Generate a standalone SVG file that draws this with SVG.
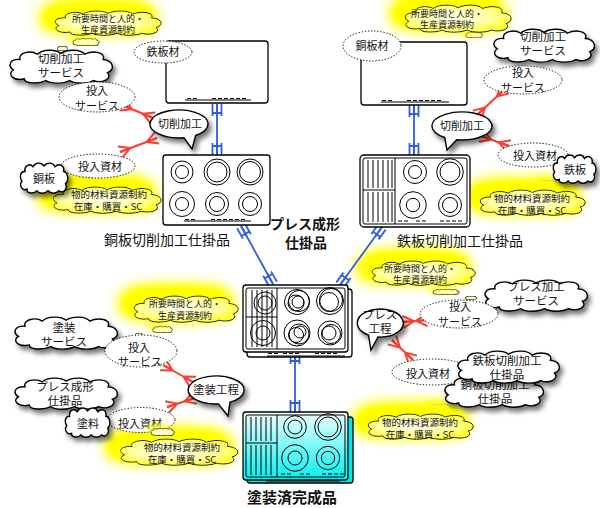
<svg xmlns="http://www.w3.org/2000/svg" width="600" height="508" viewBox="0 0 600 508">
<style>
text{font-family:"Noto Sans CJK JP","Noto Sans CJK SC",sans-serif;fill:#111;text-anchor:middle}
.s12{font-size:11.5px}
.s11{font-size:11px}
.s10{font-size:9.5px}
.s9{font-size:9px}
.lbl{font-size:14px}
.b{font-weight:bold}
.wc{fill:#fff;stroke:#000;stroke-width:1.4}
.yc{fill:url(#yfill);stroke:#000;stroke-width:1}
.yb{fill:#ffffc8;stroke:#000;stroke-width:.8}
.dot{fill:#fff;stroke:#000;stroke-width:1;stroke-dasharray:0.5 2.6;stroke-linecap:round}
.bub{fill:#fff;stroke:#000;stroke-width:1.4}
.pl{fill:#fff;stroke:#000;stroke-width:1.3}
.ln{fill:none;stroke:#000;stroke-width:1}
.blue{fill:none;stroke:#2f5fe0;stroke-width:1.8}
.red{fill:none;stroke:#ff3b2f;stroke-width:2}
</style>
<defs>
  <symbol id="cloud" viewBox="0 0 100 40" preserveAspectRatio="none">
    <path vector-effect="non-scaling-stroke" d="M12,12 C10,4 22,1 28,6 C33,0 45,0 50,5 C56,0 68,0 72,6 C80,1 92,4 89,12 C99,13 100,24 93,27 C98,34 88,40 80,36 C75,40 63,40 58,36 C52,40 40,40 36,36 C30,40 16,40 16,34 C5,37 0,28 6,24 C0,19 3,11 12,12 Z"/>
  </symbol>
  <!-- fork end: prongs open toward the part, bar across the link -->
  <path id="comb" d="M-4.5,0V12M0,0V12M4.5,0V12M-4.5,9H4.5"/>
  <!-- crow's foot end -->
  <path id="foot" d="M-6,0L0,11M0,0V11M6,0L0,11"/>
  <radialGradient id="yfill" cx="0.45" cy="0.45" r="0.6">
    <stop offset="0" stop-color="#ffffec"/>
    <stop offset="0.6" stop-color="#ffffa0"/>
    <stop offset="1" stop-color="#ffff28"/>
  </radialGradient>
  <linearGradient id="cyan" x1="0" y1="0" x2="0" y2="1">
    <stop offset="0" stop-color="#f4ffff"/>
    <stop offset="1" stop-color="#00f0f0"/>
  </linearGradient>
  <filter id="sh" x="-20%" y="-30%" width="150%" height="180%">
    <feDropShadow dx="3" dy="4" stdDeviation="2.5" flood-color="#000" flood-opacity="0.55"/>
  </filter>
  <filter id="glow" x="-60%" y="-150%" width="220%" height="400%">
    <feMorphology in="SourceAlpha" operator="dilate" radius="4" result="d"/>
    <feGaussianBlur in="d" stdDeviation="7"/>
    <feOffset dx="-10" dy="-7" result="b"/>
    <feComponentTransfer in="b" result="b2"><feFuncA type="linear" slope="1.4"/></feComponentTransfer>
    <feFlood flood-color="#ffff00"/>
    <feComposite in2="b2" operator="in"/>
    <feMerge><feMergeNode/><feMergeNode in="SourceGraphic"/></feMerge>
  </filter>
  <filter id="glow2" x="-100%" y="-200%" width="300%" height="500%">
    <feGaussianBlur in="SourceAlpha" stdDeviation="3"/>
    <feOffset dx="-4" dy="-3" result="b"/>
    <feFlood flood-color="#ffff00"/>
    <feComposite in2="b" operator="in"/>
    <feMerge><feMergeNode/><feMergeNode in="SourceGraphic"/></feMerge>
  </filter>
</defs>

<!-- resource constraint clouds (yellow, glowing) -->
<g id="res-time-1">
  <use href="#cloud" class="yb" x="72" y="38" width="28" height="8" filter="url(#glow2)"/>
  <use href="#cloud" class="yb" x="57" y="46" width="11" height="5"/>
  <use href="#cloud" class="yc" x="52" y="10" width="112" height="26" filter="url(#glow)"/>
  <text class="s9" x="108" y="22">所要時間と人的・</text>
  <text class="s9" x="108" y="33">生産資源制約</text>
</g>
<g id="res-mat-1">
  <use href="#cloud" class="yb" x="72" y="177" width="28" height="8" filter="url(#glow2)"/>
  <use href="#cloud" class="yc" x="50" y="186" width="114" height="28" filter="url(#glow)"/>
  <text class="s10" x="109" y="198">物的材料資源制約</text>
  <text class="s10" x="108" y="210">在庫・購買・SC</text>
</g>
<g id="res-time-2">
  <use href="#cloud" class="yb" x="465" y="32" width="18" height="6" filter="url(#glow2)"/>
  <use href="#cloud" class="yb" x="500" y="40" width="9" height="4"/>
  <use href="#cloud" class="yc" x="402" y="4" width="112" height="29" filter="url(#glow)"/>
  <text class="s9" x="447" y="17">所要時間と人的・</text>
  <text class="s9" x="447" y="28">生産資源制約</text>
</g>
<g id="res-mat-2">
  <use href="#cloud" class="yb" x="540" y="180" width="18" height="7" filter="url(#glow2)"/>
  <use href="#cloud" class="yc" x="477" y="189" width="111" height="27" filter="url(#glow)"/>
  <text class="s10" x="532" y="202">物的材料資源制約</text>
  <text class="s10" x="532" y="214">在庫・購買・SC</text>
</g>
<g id="res-time-3">
  <use href="#cloud" class="yb" x="152" y="326" width="21" height="7" filter="url(#glow2)"/>
  <use href="#cloud" class="yb" x="135" y="333" width="8" height="4"/>
  <use href="#cloud" class="yc" x="131" y="295" width="110" height="28" filter="url(#glow)"/>
  <text class="s9" x="185" y="307">所要時間と人的・</text>
  <text class="s9" x="185" y="319">生産資源制約</text>
</g>
<g id="res-mat-3">
  <use href="#cloud" class="yc" x="117" y="438" width="124" height="28" filter="url(#glow)"/>
  <text class="s10" x="182" y="451">物的材料資源制約</text>
  <text class="s10" x="182" y="463">在庫・購買・SC</text>
</g>
<g id="res-time-4">
  <use href="#cloud" class="yb" x="432" y="289" width="28" height="6" filter="url(#glow2)"/>
  <use href="#cloud" class="yb" x="465" y="296" width="12" height="4"/>
  <use href="#cloud" class="yc" x="369" y="260" width="109" height="26" filter="url(#glow)"/>
  <text class="s9" x="420" y="272">所要時間と人的・</text>
  <text class="s9" x="420" y="283">生産資源制約</text>
</g>
<g id="res-mat-4">
  <use href="#cloud" class="yb" x="430" y="404" width="22" height="6" filter="url(#glow2)"/>
  <use href="#cloud" class="yc" x="365" y="413" width="111" height="27" filter="url(#glow)"/>
  <text class="s10" x="420" y="426">物的材料資源制約</text>
  <text class="s10" x="420" y="438">在庫・購買・SC</text>
</g>

<!-- connectors: blue links between parts, red links to processes -->
<g id="connectors">
  <g class="blue">
    <line x1="217" y1="104" x2="217" y2="155"/>
    <use href="#comb" transform="translate(217,104)"/>
    <use href="#comb" transform="translate(217,155) rotate(180)"/>
    <line x1="414" y1="105" x2="414" y2="155"/>
    <use href="#comb" transform="translate(414,105)"/>
    <use href="#comb" transform="translate(414,155) rotate(180)"/>
    <line x1="241" y1="226" x2="273" y2="284"/>
    <use href="#comb" transform="translate(241,226) rotate(-29.3)"/>
    <use href="#comb" transform="translate(273,284) rotate(150.7)"/>
    <line x1="382" y1="227" x2="340" y2="285"/>
    <use href="#comb" transform="translate(382,227) rotate(35.9)"/>
    <use href="#comb" transform="translate(340,285) rotate(-144.1)"/>
    <line x1="295" y1="352" x2="295" y2="412"/>
    <use href="#comb" transform="translate(295,352)"/>
    <use href="#comb" transform="translate(295,412) rotate(180)"/>
  </g>
  <g class="red">
    <line x1="122" y1="105" x2="153" y2="118"/>
    <use href="#foot" transform="translate(122,105) rotate(-67.2)"/>
    <use href="#foot" transform="translate(153,118) rotate(112.8)"/>
    <line x1="120" y1="152" x2="157" y2="138"/>
    <use href="#foot" transform="translate(120,152) rotate(-110.7)"/>
    <use href="#foot" transform="translate(157,138) rotate(69.3)"/>
    <line x1="505" y1="89" x2="477" y2="115"/>
    <use href="#foot" transform="translate(505,89) rotate(47.1)"/>
    <use href="#foot" transform="translate(477,115) rotate(-132.9)"/>
    <line x1="481" y1="136" x2="509" y2="146"/>
    <use href="#foot" transform="translate(481,136) rotate(-70.3)"/>
    <use href="#foot" transform="translate(509,146) rotate(109.7)"/>
    <line x1="163" y1="365" x2="193" y2="382"/>
    <use href="#foot" transform="translate(163,365) rotate(-60.5)"/>
    <use href="#foot" transform="translate(193,382) rotate(119.5)"/>
    <line x1="167" y1="407" x2="195" y2="398"/>
    <use href="#foot" transform="translate(167,407) rotate(-107.8)"/>
    <use href="#foot" transform="translate(195,398) rotate(72.2)"/>
    <line x1="403" y1="322" x2="427" y2="320"/>
    <use href="#foot" transform="translate(403,322) rotate(-94.8)"/>
    <use href="#foot" transform="translate(427,320) rotate(85.2)"/>
    <line x1="392" y1="340" x2="413" y2="360"/>
    <use href="#foot" transform="translate(392,340) rotate(-46.4)"/>
    <use href="#foot" transform="translate(413,360) rotate(133.6)"/>
  </g>
</g>

<!-- raw sheets -->
<g id="sheet-fe">
  <rect class="pl" x="166" y="41" width="102" height="62" rx="3"/>
  <path class="ln" d="M185,100H251M187,98.5h4m2,0h4M212,98.5h4m2,0h4m2,0h4m2,0h4m2,0h4m2,0h4"/>
  <ellipse class="dot" cx="163" cy="52" rx="29" ry="11"/>
  <text class="s11" x="163" y="56">鉄板材</text>
</g>
<g id="sheet-cu">
  <rect class="pl" x="361" y="42" width="106" height="63" rx="3"/>
  <path class="ln" d="M381,102H449M382,100.5h4m2,0h4M407,100.5h4m2,0h4m2,0h4m2,0h4m2,0h4m2,0h4"/>
  <ellipse class="dot" cx="372" cy="46" rx="29" ry="15"/>
  <text class="s11" x="372" y="50">銅板材</text>
</g>

<!-- machined copper part -->
<g id="part-cu">
  <rect class="pl" x="163" y="155" width="107" height="70" rx="3"/>
  <g class="ln">
    <circle cx="182" cy="172" r="11"/><circle cx="182" cy="172" r="6.5"/>
    <circle cx="217" cy="172" r="13"/><circle cx="217" cy="172" r="10"/>
    <circle cx="250" cy="172" r="13"/><circle cx="250" cy="172" r="10.5"/>
    <circle cx="182" cy="204" r="12.5"/><circle cx="182" cy="204" r="6.5"/>
    <circle cx="217" cy="204" r="11.5"/><circle cx="217" cy="204" r="7.5"/>
    <circle cx="250" cy="204" r="11.5"/><circle cx="250" cy="204" r="7.5"/>
    <path d="M184,221H251M185,219.5h4m2,0h4M211,219.5h4m2,0h4m2,0h4m2,0h4m2,0h4m2,0h4"/>
  </g>
  <text class="lbl" x="167" y="245">銅板切削加工仕掛品</text>
</g>

<!-- machined iron part -->
<g id="part-fe">
  <rect class="pl" x="360" y="155" width="110" height="72" rx="4"/>
  <g class="ln">
    <rect x="363" y="158" width="104" height="66" rx="2"/>
    <path d="M395,158V224M363,190H395M368,160V188M373,160V188M378,160V188M383,160V188M388,160V188M392,160V188M368,192V222M373,192V222M378,192V222M383,192V222M388,192V222M392,192V222"/>
    <circle cx="415" cy="172" r="11.5"/><circle cx="415" cy="172" r="6.5"/>
    <circle cx="450" cy="172" r="13.3"/><circle cx="450" cy="172" r="10"/>
    <circle cx="413" cy="205" r="13.3"/><circle cx="413" cy="205" r="6.7"/>
    <circle cx="450" cy="205" r="11.5"/><circle cx="450" cy="205" r="7.5"/>
    <path d="M398,221h4m2,0h4M416,221h4m2,0h4M440,221h4m2,0h4m2,0h4m2,0h4"/>
  </g>
  <text class="lbl" x="460" y="246">鉄板切削加工仕掛品</text>
</g>

<!-- pressed assembly -->
<g id="part-press">
  <rect class="pl" x="247" y="289" width="105" height="68" rx="3"/>
  <rect class="pl" x="243" y="285" width="105" height="67" rx="3"/>
  <g class="ln">
    <rect x="246" y="288" width="99" height="61" rx="2"/>
    <path d="M277,288V349M246,317H277M252,290V347M257,290V347M262,290V347M267,290V347M272,290V347"/>
    <circle cx="265" cy="303" r="11"/><circle cx="265" cy="303" r="7"/>
    <circle cx="263" cy="333" r="12.5"/><circle cx="263" cy="333" r="7"/>
    <circle cx="297" cy="302" r="12.5"/><circle cx="299" cy="301" r="10.5"/><circle cx="296" cy="303" r="8"/><circle cx="298" cy="302" r="6"/>
    <circle cx="330" cy="301" r="13.5"/><circle cx="331" cy="300" r="11.5"/><circle cx="329" cy="302" r="9.5"/>
    <circle cx="297" cy="333" r="13"/><circle cx="299" cy="334" r="10"/><circle cx="296" cy="335" r="7.5"/><circle cx="300" cy="332" r="6"/>
    <circle cx="330" cy="333" r="12"/><circle cx="331" cy="334" r="9.5"/><circle cx="329" cy="333" r="7"/>
    <path d="M267,356H345M268,353.5h4m2,0h4M283,353.5h4m2,0h4m2,0h4M315,353.5h4m2,0h4m2,0h4m2,0h4"/>
  </g>
  <text class="lbl b" x="305" y="229">プレス成形</text>
  <text class="lbl b" x="306" y="248">仕掛品</text>
</g>

<!-- painted finished product -->
<g id="part-paint">
  <rect x="247" y="417" width="106" height="66" rx="3" fill="#00e8e8" stroke="#000" stroke-width="1.3"/>
  <rect x="243" y="412" width="105" height="68" rx="3" fill="url(#cyan)" stroke="#000" stroke-width="1.3"/>
  <g class="ln">
    <rect x="246" y="415" width="99" height="62" rx="2"/>
    <path d="M277,415V477M246,443H277M251,417V441M256,417V441M261,417V441M266,417V441M271,417V441M251,445V475M256,445V475M261,445V475M266,445V475M271,445V475"/>
    <circle cx="295" cy="427" r="11.3"/><circle cx="295" cy="427" r="7"/>
    <circle cx="328" cy="427" r="13.3"/><circle cx="328" cy="427" r="10"/>
    <circle cx="295" cy="458" r="13.3"/><circle cx="295" cy="458" r="7"/>
    <circle cx="328" cy="458" r="11.7"/><circle cx="328" cy="458" r="6.7"/>
    <path d="M266,481H340M281,474h4m2,0h4M300,474h4m2,0h4M322,474h4m2,0h4m2,0h4m2,0h4"/>
  </g>
  <text class="b" style="font-size:15px" x="292" y="503">塗装済完成品</text>
</g>

<!-- cutting process (copper) -->
<g id="proc-cut-l">
  <path class="bub" filter="url(#sh)" d="M184,137.8 A29,14 0 1 1 195.6,135.5 L192,149 Z"/>
  <text class="s11" x="180" y="128">切削加工</text>
</g>
<g id="svc-cut-l">
  <use href="#cloud" class="wc" x="7" y="49" width="108" height="35" filter="url(#sh)"/>
  <text class="s12" x="61" y="63">切削加工</text>
  <text class="s12" x="61" y="77">サービス</text>
</g>
<g id="in-svc-1">
  <ellipse class="dot" cx="97" cy="97" rx="38" ry="15"/>
  <text class="s11" x="97" y="95">投入</text>
  <text class="s11" x="97" y="110">サービス</text>
</g>
<g id="in-mat-1">
  <ellipse class="dot" cx="98" cy="166" rx="37" ry="12"/>
  <text class="s11" x="100" y="171">投入資材</text>
</g>
<g id="mat-cu">
  <use href="#cloud" class="wc" x="19" y="162" width="50" height="32" filter="url(#sh)"/>
  <text class="s11" x="44" y="183">銅板</text>
</g>

<!-- cutting process (iron) -->
<g id="proc-cut-r">
  <path class="bub" filter="url(#sh)" d="M444.8,137.5 A30,14 0 1 1 456.8,139.8 L447,150 Z"/>
  <text class="s11" x="462" y="130">切削加工</text>
</g>
<g id="svc-cut-r">
  <use href="#cloud" class="wc" x="491" y="28" width="106" height="35" filter="url(#sh)"/>
  <text class="s12" x="543" y="41">切削加工</text>
  <text class="s12" x="543" y="55">サービス</text>
</g>
<g id="in-svc-2">
  <ellipse class="dot" cx="523" cy="80" rx="39" ry="14"/>
  <text class="s11" x="523" y="77">投入</text>
  <text class="s11" x="523" y="92">サービス</text>
</g>
<g id="in-mat-2">
  <ellipse class="dot" cx="533" cy="155" rx="35" ry="12"/>
  <text class="s11" x="535" y="160">投入資材</text>
</g>
<g id="mat-fe">
  <use href="#cloud" class="wc" x="552" y="154" width="45" height="30" filter="url(#sh)"/>
  <text class="s11" x="575" y="174">鉄板</text>
</g>

<!-- painting process -->
<g id="proc-paint">
  <path class="bub" filter="url(#sh)" d="M218.4,403.9 A28,14 0 1 1 230,402.1 L228,416 Z"/>
  <text class="s12" x="216" y="394">塗装工程</text>
</g>
<g id="svc-paint">
  <use href="#cloud" class="wc" x="12" y="316" width="108" height="34" filter="url(#sh)"/>
  <text class="s12" x="64" y="332">塗装</text>
  <text class="s12" x="64" y="346">サービス</text>
</g>
<g id="in-svc-3">
  <ellipse class="dot" cx="141" cy="351" rx="36" ry="16"/>
  <text class="s11" x="139" y="352">投入</text>
  <text class="s11" x="140" y="366">サービス</text>
</g>
<g id="in-mat-3">
  <ellipse class="dot" cx="141" cy="420" rx="34" ry="12.5"/>
  <text class="s11" x="140" y="428">投入資材</text>
  <use href="#cloud" class="yb" x="150" y="428" width="25" height="8" filter="url(#glow2)"/>
</g>
<g id="mat-press">
  <use href="#cloud" class="wc" x="12" y="377" width="108" height="33" filter="url(#sh)"/>
  <text class="s12" x="65" y="391">プレス成形</text>
  <text class="s12" x="65" y="405">仕掛品</text>
</g>
<g id="mat-paint">
  <use href="#cloud" class="wc" x="64" y="407" width="47" height="31" filter="url(#sh)"/>
  <text class="s11" x="88" y="428">塗料</text>
</g>

<!-- press process -->
<g id="proc-press">
  <path class="bub" filter="url(#sh)" d="M368.5,335.1 A23,14 0 1 1 378,337 L371,350 Z"/>
  <text class="s12" x="380" y="319">プレス</text>
  <text class="s12" x="380" y="333">工程</text>
</g>
<g id="svc-press">
  <use href="#cloud" class="wc" x="482" y="279" width="108" height="33" filter="url(#sh)"/>
  <text class="s12" x="536" y="291">プレス加工</text>
  <text class="s12" x="536" y="305">サービス</text>
</g>
<g id="in-svc-4">
  <ellipse class="dot" cx="459" cy="314" rx="39" ry="14"/>
  <text class="s11" x="460" y="311">投入</text>
  <text class="s11" x="460" y="326">サービス</text>
</g>
<g id="in-mat-4">
  <ellipse class="dot" cx="432" cy="372" rx="40" ry="13"/>
  <text class="s11" x="428" y="378">投入資材</text>
</g>
<g id="mat-part-cu">
  <use href="#cloud" class="wc" x="442" y="375" width="104" height="33" filter="url(#sh)"/>
  <text class="s12" x="495" y="389">銅板切削加工</text>
  <text class="s12" x="495" y="403">仕掛品</text>
</g>
<g id="mat-part-fe">
  <use href="#cloud" class="wc" x="455" y="350" width="107" height="34" filter="url(#sh)"/>
  <text class="s12" x="507" y="365">鉄板切削加工</text>
  <text class="s12" x="507" y="379">仕掛品</text>
</g>
</svg>
